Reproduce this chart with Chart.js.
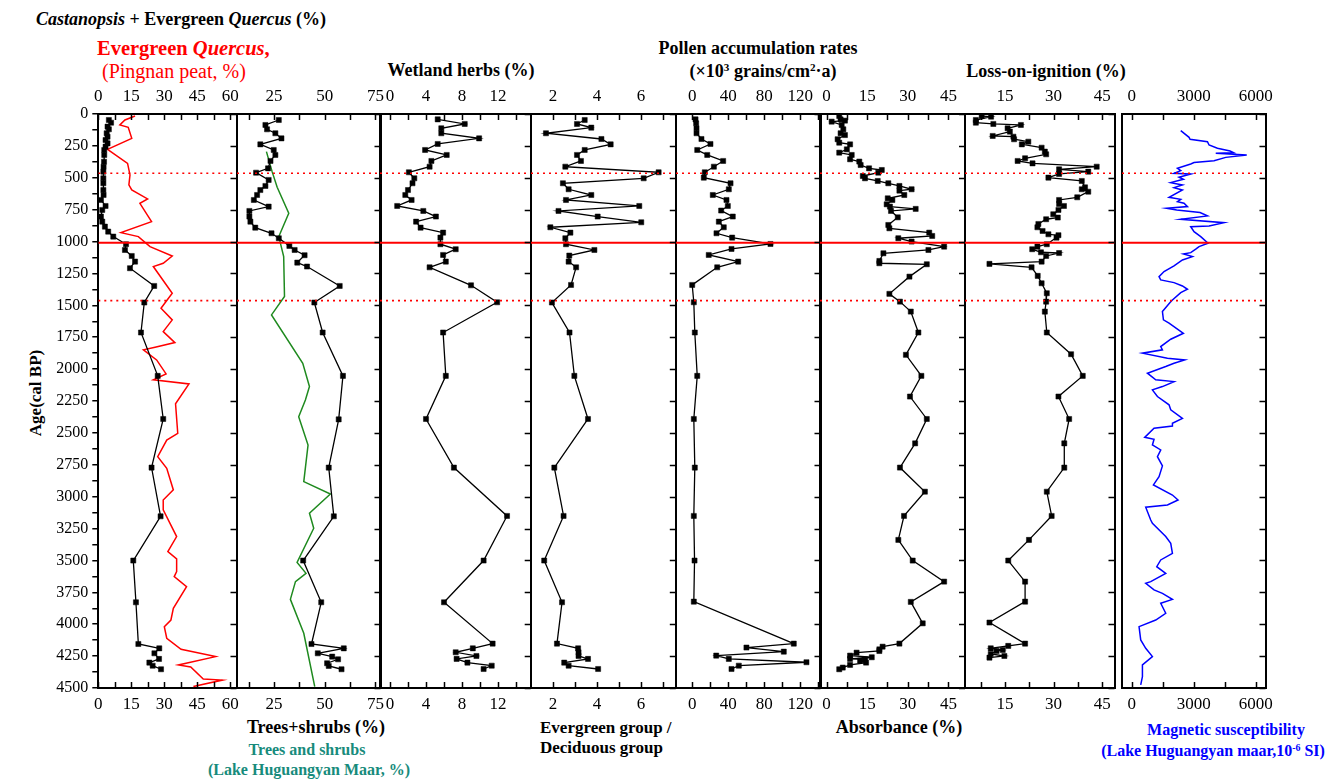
<!DOCTYPE html>
<html>
<head>
<meta charset="utf-8">
<script src="https://cdn.jsdelivr.net/npm/chart.js@4.4.0/dist/chart.umd.min.js"></script>
<style>
    body { margin: 0; width: 1326px; height: 779px; background: #fff; position: relative; overflow: hidden;
           font-family: 'Liberation Serif', 'Times New Roman', serif; color: #000; }
    canvas { position: absolute; top: 0; }
    .t { position: absolute; white-space: nowrap; line-height: 1; }
    .c { transform: translate(-50%, -50%); }
    .l { transform: translateY(-50%); }
    .b { font-weight: bold; }
    sup { font-size: 0.62em; line-height: 0; vertical-align: 0.55em; }
</style>
</head>
<body>
<!-- 标题文字 -->
<div class="t l b" style="left:36px;top:19px;font-size:18px;"><i>Castanopsis</i> + Evergreen <i>Quercus</i> (%)</div>
<div class="t l b" style="left:97px;top:48px;font-size:20.5px;color:#ff0000;">Evergreen <i>Quercus</i>,</div>
<div class="t l" style="left:102px;top:71px;font-size:20px;color:#ff0000;">(Pingnan peat, %)</div>
<div class="t c b" style="left:461px;top:70px;font-size:18px;">Wetland herbs (%)</div>
<div class="t c b" style="left:758px;top:48px;font-size:18px;">Pollen accumulation rates</div>
<div class="t c b" style="left:763px;top:71px;font-size:18px;">(×10<sup>3</sup> grains/cm<sup>2</sup>·a)</div>
<div class="t c b" style="left:1046px;top:71px;font-size:18px;">Loss-on-ignition (%)</div>
<div class="t c b" style="left:35px;top:393px;font-size:17px;transform:translate(-50%,-50%) rotate(-90deg);">Age(cal BP)</div>
<div class="t c b" style="left:316px;top:727px;font-size:18px;">Trees+shrubs (%)</div>
<div class="t c b" style="left:307px;top:750px;font-size:16px;color:#178b7c;">Trees and shrubs</div>
<div class="t c b" style="left:309px;top:770px;font-size:16px;color:#178b7c;">(Lake Huguangyan Maar, %)</div>
<div class="t l b" style="left:540px;top:727px;font-size:17px;">Evergreen group /</div>
<div class="t l b" style="left:540px;top:747px;font-size:17px;">Deciduous group</div>
<div class="t c b" style="left:899px;top:727px;font-size:18px;">Absorbance (%)</div>
<div class="t c b" style="left:1226px;top:730px;font-size:16px;color:#0000ff;">Magnetic susceptibility</div>
<div class="t c b" style="left:1213px;top:751px;font-size:16px;color:#0000ff;">(Lake Huguangyan maar,10<sup>-6</sup> SI)</div>

<script>
// 年龄刻度
const ageTicks = [];
for (let a = 0; a <= 4500; a += 125) ageTicks.push(a);
const ageMajor = ageTicks.filter(a => a % 250 === 0);

// 红色参考线 (cal BP)
const eventLine = 1010;
const dottedLines = [465, 1463];

// 各面板横轴刻度
const ticksP1 = [0, 7.5, 15, 22.5, 30, 37.5, 45, 52.5, 60];
const labelsP1 = [0, 15, 30, 45, 60];
const ticksP2 = [12.5, 25, 37.5, 50, 62.5, 75];
const labelsP2 = [25, 50, 75];
const ticksP3 = [0, 2, 4, 6, 8, 10, 12, 14];
const labelsP3 = [0, 4, 8, 12];
const ticksP4 = [2, 3, 4, 5, 6, 7];
const labelsP4 = [2, 4, 6];
const ticksP5 = [0, 20, 40, 60, 80, 100, 120, 140];
const labelsP5 = [0, 40, 80, 120];
const ticksP6 = [0, 7.5, 15, 22.5, 30, 37.5, 45];
const labelsP6 = [0, 15, 30, 45];
const ticksP7 = [7.5, 15, 22.5, 30, 37.5, 45];
const labelsP7 = [15, 30, 45];
const ticksP8 = [0, 1500, 3000, 4500, 6000];
const labelsP8 = [0, 3000, 6000];

// Castanopsis + 常绿栎 (%)
const ageCQ = [47, 68, 99, 120, 151, 178, 204, 230, 256, 282, 321, 374, 413, 452, 504, 543, 596, 635, 674, 721,
    752, 804, 844, 883, 922, 961, 1021, 1066, 1113, 1157, 1209, 1348, 1478, 1713, 2053, 2391, 2772, 3154, 3501, 3828,
    4155, 4189, 4228, 4272, 4301, 4325, 4353];
const valCQ = [4.8, 5.8, 4.2, 4.8, 3.8, 4.2, 3.3, 4.2, 3.3, 2.7, 2.7, 2.6, 2.4, 2.3, 2.3, 2.3, 2.3, 2.4, 1.2, 3.3,
    1.8, 1.2, 1.8, 3.0, 4.5, 6.8, 12.6, 12.1, 15.2, 16.7, 14.4, 25.4, 20.9, 19.4, 27.0, 29.5, 24.2, 28.3, 15.9, 17.1,
    18.2, 27.7, 25.5, 27.6, 23.2, 24.7, 28.5];

// 常绿栎 (屏南泥炭, %)
const ageEQ = [16, 47, 86, 104, 191, 277, 387, 478, 556, 595, 666, 700, 844, 930, 961, 1040, 1113, 1170, 1196, 1405,
    1523, 1614, 1706, 1792, 1828, 1849, 1928, 2037, 2084, 2116, 2272, 2503, 2556, 2686, 2778, 2947, 3026, 3104, 3313, 3431,
    3488, 3588, 3627, 3705, 3875, 3967, 4019, 4110, 4197, 4254, 4319, 4335, 4430, 4438, 4489];
const valEQ = [16.7, 12.1, 9.8, 13.6, 15.2, 4.2, 13.3, 14.4, 13.9, 15.2, 22.4, 18.9, 24.2, 10.3, 18.2, 23.5, 33.6, 29.5, 25.0, 33.6,
    28.5, 33.6, 29.5, 34.8, 25.8, 20.5, 26.5, 30.8, 25.0, 41.2, 35.1, 36.1, 31.1, 27.0, 31.1, 34.1, 29.5, 29.5, 35.6, 31.6,
    35.6, 35.6, 34.5, 40.1, 34.1, 33.0, 30.0, 31.1, 37.6, 53.3, 36.4, 42.0, 47.7, 56.4, 43.2];

// 乔灌木 (%)
const ageTS = [47, 86, 120, 151, 191, 238, 282, 321, 368, 426, 460, 517, 564, 596, 635, 674, 726, 760, 804, 844,
    891, 935, 974, 1034, 1066, 1107, 1165, 1196, 1348, 1478, 1713, 2053, 2394, 2772, 3154, 3501, 3828, 4155, 4189, 4228,
    4254, 4275, 4306, 4327, 4353];
const valTS = [27.4, 20.8, 21.6, 25.7, 28.7, 18.3, 24.9, 25.7, 23.3, 22.1, 16.2, 22.4, 20.8, 18.3, 16.7, 15.1, 22.4, 12.9, 12.9, 13.4,
    15.8, 23.8, 27.4, 32.6, 35.2, 40.1, 36.5, 41.3, 57.4, 44.9, 49.0, 59.0, 56.9, 52.0, 54.5, 39.4, 48.3, 43.5, 59.4, 46.6,
    53.7, 56.6, 51.2, 52.0, 58.3];

// 湖光岩玛珥湖 乔灌木 (%)
const ageLH = [295, 452, 575, 778, 961, 1118, 1431, 1575, 1954, 2137, 2242, 2373, 2595, 2882, 2979, 3130, 3248, 3515, 3601, 3666,
    3805, 4071, 4489];
const valLH = [21.3, 24.1, 26.6, 32.3, 27.4, 29.8, 30.2, 23.8, 39.2, 42.5, 40.5, 37.2, 41.8, 39.7, 52.8, 42.5, 44.6, 36.4, 40.8, 35.6,
    33.1, 39.7, 45.1];

// 湿生草本 (%)
const ageWH = [42, 78, 112, 151, 191, 235, 282, 321, 368, 413, 457, 504, 543, 596, 635, 674, 721, 760, 804, 844,
    891, 930, 969, 1021, 1060, 1105, 1157, 1202, 1343, 1476, 1713, 2053, 2391, 2772, 3151, 3501, 3828, 4152, 4189, 4220,
    4249, 4272, 4301, 4325, 4351];
const valWH = [5.3, 8.3, 5.7, 5.7, 9.9, 5.3, 3.9, 6.3, 4.6, 4.4, 2.1, 2.7, 2.5, 2.0, 1.7, 2.4, 0.8, 3.7, 5.1, 2.9,
    3.4, 5.9, 5.6, 5.6, 7.3, 5.9, 6.2, 4.4, 9.0, 11.9, 5.9, 6.2, 4.0, 7.1, 13.0, 10.4, 6.0, 11.4, 9.2, 7.3,
    9.6, 7.4, 8.6, 11.3, 10.4];

// 常绿类 / 落叶类
const ageED = [47, 78, 107, 151, 196, 238, 282, 321, 368, 413, 457, 504, 543, 590, 635, 674, 721, 760, 804, 849,
    888, 930, 974, 1021, 1066, 1110, 1157, 1202, 1340, 1478, 1713, 2053, 2391, 2772, 3151, 3501, 3828, 4152, 4189, 4220,
    4249, 4272, 4301, 4325, 4351];
const valED = [3.44, 3.09, 3.74, 1.68, 4.2, 4.62, 3.44, 3.09, 3.27, 2.56, 6.8, 6.12, 2.45, 2.71, 3.74, 2.59, 5.92, 2.25, 4.03, 6.01,
    1.88, 2.79, 2.56, 2.59, 3.88, 2.74, 2.71, 3.05, 2.82, 1.95, 2.75, 2.97, 3.59, 2.06, 2.48, 1.6, 2.41, 2.18, 3.14, 3.16,
    3.16, 3.59, 2.51, 2.71, 4.05];

// 花粉累积速率
const agePA = [42, 73, 112, 151, 196, 235, 282, 321, 368, 413, 457, 499, 543, 590, 635, 674, 721, 757, 804, 844,
    888, 935, 969, 1019, 1058, 1105, 1157, 1202, 1340, 1476, 1713, 2053, 2391, 2772, 3151, 3501, 3823, 4152, 4183, 4215,
    4246, 4272, 4298, 4325, 4351];
const valPA = [3.7, 4.4, 4.8, 4.8, 10.3, 20.3, 5.6, 16.7, 34.4, 24.1, 14.0, 12.9, 42.6, 40.7, 22.9, 38.1, 39.6, 32.2, 45.1, 29.6,
    35.1, 27.0, 44.4, 87.0, 43.7, 18.4, 51.1, 27.8, 0, 1.8, 2.9, 5.6, 1.8, 2.9, 1.8, 2.6, 1.8, 112.9, 60.3, 101.8,
    26.7, 40.7, 127.0, 51.8, 43.7];

// 吸光度 (%)
const ageAB = [16, 42, 52, 60, 86, 120, 151, 165, 198, 225, 238, 277, 303, 321, 355, 373, 400, 426, 439, 460,
    486, 504, 525, 543, 564, 590, 601, 635, 661, 674, 708, 726, 744, 760, 810, 870, 896, 930, 956, 974,
    1000, 1040, 1066, 1092, 1152, 1170, 1178, 1275, 1410, 1471, 1549, 1713, 1888, 2053, 2215, 2391, 2582, 2772, 2961, 3151,
    3339, 3501, 3666, 3825, 3993, 4152, 4176, 4197, 4210, 4223, 4246, 4259, 4272, 4275, 4285, 4301, 4319, 4340, 4353];
const valAB = [4.7, 5.2, 6.8, 1.9, 5.6, 6.2, 5.2, 6.8, 4.1, 4.7, 8.7, 7.5, 4.7, 9.3, 8.7, 12.1, 12.6, 15.7, 20.4, 19.1,
    13.4, 14.2, 18.9, 22.8, 26.9, 31.4, 26.9, 28.7, 22.6, 24.3, 22.2, 23.4, 32.9, 23.8, 26.3, 22.8, 23.2, 37.9, 39.0, 26.5,
    31.4, 43.4, 37.6, 21.0, 19.5, 19.5, 37.0, 30.6, 23.2, 27.1, 31.1, 33.9, 29.3, 35.0, 30.8, 37.0, 32.7, 27.1, 36.3, 28.6,
    26.5, 31.8, 43.4, 31.1, 35.5, 26.9, 20.7, 19.5, 19.5, 11.1, 8.7, 16.7, 8.7, 14.2, 12.4, 14.6, 8.7, 6.0, 4.7];

// 烧失量 (%)
const ageLOI = [16, 21, 47, 68, 78, 86, 112, 138, 172, 178, 198, 217, 238, 264, 295, 316, 347, 368, 387, 413,
    434, 452, 470, 499, 525, 575, 590, 609, 653, 674, 705, 721, 752, 786, 812, 825, 862, 888, 917, 943,
    950, 969, 1021, 1040, 1060, 1084, 1090, 1113, 1157, 1175, 1202, 1269, 1327, 1405, 1471, 1549, 1713, 1883, 2053, 2215,
    2391, 2582, 2772, 2961, 3151, 3339, 3501, 3666, 3823, 3987, 4152, 4170, 4189, 4202, 4210, 4233, 4249, 4262];
const valLOI = [7.8, 10.7, 6.0, 6.0, 11.4, 19.9, 15.8, 16.5, 11.2, 17.6, 17.8, 22.2, 20.2, 26.3, 27.3, 27.7, 21.2, 18.9, 23.5, 43.3,
    31.7, 40.7, 31.7, 28.4, 38.7, 39.7, 38.7, 40.7, 37.3, 31.7, 31.7, 33.2, 31.5, 29.9, 31.3, 27.7, 25.3, 25.0, 26.6, 28.4,
    31.5, 30.9, 27.9, 25.0, 23.4, 26.1, 31.7, 27.7, 26.3, 10.2, 23.2, 25.1, 26.3, 27.9, 27.7, 27.3, 27.9, 35.4, 39.0, 31.5,
    34.8, 33.3, 33.3, 27.9, 29.4, 22.4, 16.0, 21.2, 21.2, 10.2, 21.2, 16.0, 10.6, 14.3, 12.4, 10.6, 14.8, 10.2];

// 磁化率 (10^-6 SI)
const ageMS = [131, 183, 198, 217, 243, 269, 290, 303, 308, 321, 340, 366, 381, 392, 426, 444, 465, 470, 496, 512,
    538, 556, 577, 596, 653, 669, 687, 700, 726, 739, 752, 773, 799, 825, 852, 878, 883, 922, 961, 1013,
    1040, 1060, 1087, 1097, 1118, 1144, 1191, 1235, 1275, 1301, 1322, 1348, 1374, 1400, 1458, 1478, 1549, 1614, 1640, 1719,
    1766, 1823, 1849, 1875, 1915, 1928, 1954, 1980, 2032, 2084, 2098, 2137, 2163, 2215, 2280, 2319, 2386, 2425, 2446, 2464,
    2535, 2550, 2595, 2634, 2686, 2759, 2843, 2908, 2987, 3026, 3065, 3083, 3183, 3209, 3313, 3366, 3444, 3496, 3549, 3601,
    3666, 3679, 3731, 3758, 3805, 3836, 3914, 3967, 4019, 4123, 4189, 4254, 4319, 4411, 4476];
const valMS = [2371, 2773, 2821, 3662, 3740, 4146, 4756, 4920, 4064, 5563, 4548, 3982, 3014, 2854, 2211, 2371, 2046, 2854, 2288, 2500,
    1887, 2453, 2046, 2453, 1805, 2371, 2211, 2530, 2695, 1693, 2177, 3304, 3662, 2371, 4465, 3740, 2854, 3014, 3338, 3691,
    3256, 3096, 2854, 2500, 2936, 2453, 2046, 1563, 1321, 1403, 2046, 2453, 2695, 2371, 1969, 1853, 1485, 1534, 1805, 2500,
    1887, 1403, 1485, 518, 1727, 2564, 2046, 1645, 760, 1161, 2046, 1485, 1001, 1243, 1805, 1887, 2453, 1969, 1969, 1079,
    629, 1079, 1001, 1403, 1243, 1485, 1321, 1050, 1969, 2240, 1727, 677, 919, 1001, 1645, 1887, 1969, 1403, 1210, 1645,
    919, 677, 1079, 1485, 1969, 1403, 1645, 1161, 355, 435, 677, 1001, 518, 518, 435];

Chart.defaults.font.family = "'Liberation Serif', 'Times New Roman', serif";
Chart.defaults.color = '#000';

// 内向刻度线 (上/下框及右框)
const innerTicks = {
    id: 'innerTicks',
    afterDraw(chart) {
        const ctx = chart.ctx, a = chart.chartArea;
        const xs = chart.scales.x, ys = chart.scales.y2;
        ctx.save();
        ctx.strokeStyle = '#000';
        ctx.lineWidth = 1.5;
        ctx.beginPath();
        xs.ticks.forEach(t => {
            const px = Math.round(xs.getPixelForValue(t.value)) + 0.5;
            ctx.moveTo(px, a.top); ctx.lineTo(px, a.top + 6);
            ctx.moveTo(px, a.bottom); ctx.lineTo(px, a.bottom - 6);
        });
        ys.ticks.forEach(t => {
            const py = Math.round(ys.getPixelForValue(t.value)) + 0.5;
            ctx.moveTo(a.right, py); ctx.lineTo(a.right - 6, py);
        });
        ctx.stroke();
        ctx.restore();
    }
};

// 数据集
function markerSeries(ages, vals) {
    return {
        data: vals.map((v, i) => ({ x: v, y: ages[i] })),
        showLine: true,
        borderColor: '#000',
        borderWidth: 1.3,
        pointStyle: 'rect',
        pointRadius: 3.6,
        pointBackgroundColor: '#000',
        pointBorderColor: '#000',
        pointBorderWidth: 0.5
    };
}
function plainSeries(ages, vals, color) {
    return {
        data: vals.map((v, i) => ({ x: v, y: ages[i] })),
        showLine: true,
        borderColor: color,
        borderWidth: 1.5,
        pointRadius: 0
    };
}

// 面板配置 (像素位置 + 坐标范围)
const panels = [
    { left: 98.3, right: 236.5, min: 0, max: 62.8, ticks: ticksP1, labels: labelsP1, first: true,
      series: [markerSeries(ageCQ, valCQ), plainSeries(ageEQ, valEQ, '#ff0000')] },
    { left: 236.5, right: 380, min: 6.8, max: 77.5, ticks: ticksP2, labels: labelsP2,
      series: [markerSeries(ageTS, valTS), plainSeries(ageLH, valLH, '#1f8a1f')] },
    { left: 380, right: 530.7, min: -1.11, max: 15.63, ticks: ticksP3, labels: labelsP3,
      series: [markerSeries(ageWH, valWH)] },
    { left: 530.7, right: 675.5, min: 1.0, max: 7.58, ticks: ticksP4, labels: labelsP4,
      series: [markerSeries(ageED, valED)] },
    { left: 675.5, right: 820, min: -18, max: 142.6, ticks: ticksP5, labels: labelsP5,
      series: [markerSeries(agePA, valPA)] },
    { left: 820, right: 965, min: -2.4, max: 51.1, ticks: ticksP6, labels: labelsP6,
      series: [markerSeries(ageAB, valAB)] },
    { left: 965, right: 1114.5, min: 2.65, max: 48.8, ticks: ticksP7, labels: labelsP7,
      series: [markerSeries(ageLOI, valLOI)] },
    { left: 1121.5, right: 1265, min: -470, max: 6470, ticks: ticksP8, labels: labelsP8,
      series: [plainSeries(ageMS, valMS, '#0000ff')] }
];

function xAxis(p, pos) {
    return {
        type: 'linear', position: pos, min: p.min, max: p.max,
        afterBuildTicks: ax => { ax.ticks = p.ticks.map(v => ({ value: v })); },
        afterFit: ax => { ax.height = 30; },
        ticks: {
            autoSkip: false, maxRotation: 0, padding: pos === 'top' ? 7 : 6,
            font: { size: 17 }, color: '#000',
            callback: v => p.labels.indexOf(v) >= 0 ? String(v) : ''
        },
        grid: { drawOnChartArea: false, drawTicks: false },
        border: { display: true, color: '#000', width: 2 }
    };
}

function makePanel(p) {
    const padL = p.first ? 0 : 25, padR = 25;
    const canvasLeft = p.first ? 0 : p.left - padL;
    const c = document.createElement('canvas');
    c.width = Math.round(p.right - canvasLeft + padR);
    c.height = 779;
    c.style.left = canvasLeft + 'px';
    document.body.appendChild(c);

    const refLines = [
        { data: [{ x: p.min, y: eventLine }, { x: p.max, y: eventLine }], showLine: true,
          borderColor: '#ff0000', borderWidth: 2, pointRadius: 0 }
    ];
    dottedLines.forEach(a => refLines.push({
        data: [{ x: p.min, y: a }, { x: p.max, y: a }], showLine: true,
        borderColor: '#ff0000', borderWidth: 1.6, borderDash: [2, 4], pointRadius: 0
    }));

    return new Chart(c, {
        type: 'scatter',
        data: { datasets: refLines.concat(p.series) },
        options: {
            responsive: false,
            animation: false,
            events: [],
            layout: { padding: { left: padL, right: c.width - (p.right - canvasLeft), top: 84, bottom: 61 } },
            plugins: { legend: { display: false }, tooltip: { enabled: false } },
            scales: {
                x: xAxis(p, 'top'),
                xb: xAxis(p, 'bottom'),
                y: {
                    type: 'linear', position: 'left', reverse: true, min: 0, max: 4500,
                    afterBuildTicks: ax => { ax.ticks = ageTicks.map(v => ({ value: v })); },
                    afterFit: ax => { ax.width = p.first ? p.left : 0; },
                    ticks: {
                        display: !!p.first, autoSkip: false, padding: 4, font: { size: 16 }, color: '#000',
                        callback: v => v % 250 === 0 ? String(v) : ''
                    },
                    grid: { drawOnChartArea: false, drawTicks: !!p.first, tickLength: 6, color: '#000', lineWidth: 1.5 },
                    border: { display: true, color: '#000', width: 2 }
                },
                y2: {
                    type: 'linear', position: 'right', reverse: true, min: 0, max: 4500,
                    afterBuildTicks: ax => { ax.ticks = ageMajor.map(v => ({ value: v })); },
                    afterFit: ax => { ax.width = 0; },
                    ticks: { display: false },
                    grid: { display: false },
                    border: { display: true, color: '#000', width: 2 }
                }
            }
        },
        plugins: [innerTicks]
    });
}

panels.forEach(makePanel);
</script>
</body>
</html>
